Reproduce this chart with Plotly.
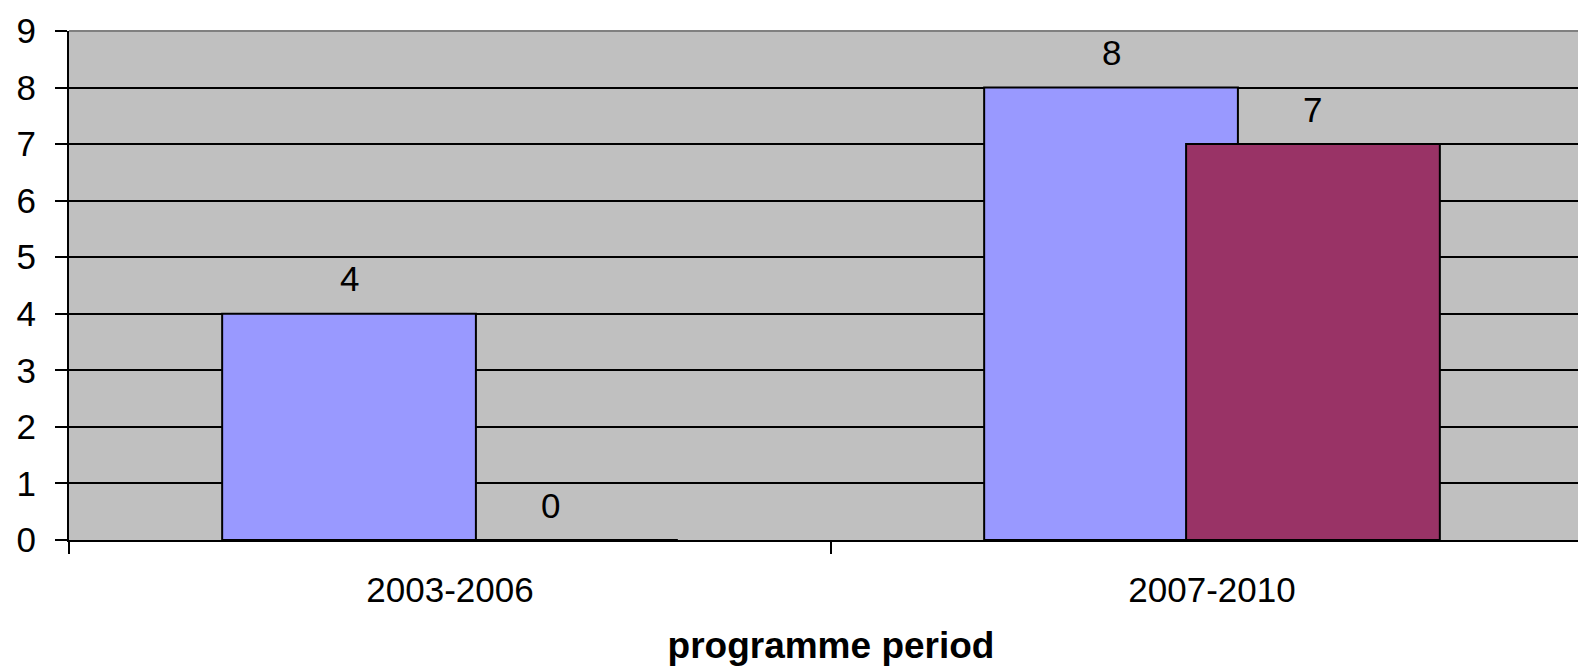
import plotly.graph_objects as go

categories = ["2003-2006", "2007-2010"]
series_a = [4, 8]
series_b = [0, 7]
y_ticks = [0, 1, 2, 3, 4, 5, 6, 7, 8, 9]

BAR_W = 0.333
SHIFT = 0.1325
FONT = "Liberation Sans, Arial, sans-serif"

fig = go.Figure()
fig.add_trace(go.Bar(
    x=categories, y=series_a, width=BAR_W, offset=-SHIFT - BAR_W / 2,
    marker=dict(color="#9999FF", line=dict(color="black", width=2)),
    showlegend=False, hoverinfo="skip",
))
fig.add_trace(go.Bar(
    x=categories, y=series_b, width=BAR_W, offset=SHIFT - BAR_W / 2,
    marker=dict(color="#993366", line=dict(color="black", width=2)),
    showlegend=False, hoverinfo="skip",
))

annotations = []
for series, shift in ((series_a, -SHIFT), (series_b, SHIFT)):
    for i, v in enumerate(series):
        annotations.append(dict(
            x=i + shift, y=v, xref="x", yref="y", text=str(v),
            showarrow=False, yshift=35, yanchor="middle",
            font=dict(family=FONT, size=35, color="black"),
        ))

fig.update_layout(
    width=1586, height=666,
    margin=dict(l=61, r=1, t=23, b=134, autoexpand=False),
    paper_bgcolor="white", plot_bgcolor="#C0C0C0",
    barmode="overlay",
    font=dict(family=FONT, size=35, color="black"),
    annotations=annotations,
    shapes=[
        dict(type="line", xref="paper", yref="paper", x0=0, x1=1, y0=1, y1=1,
             line=dict(color="#808080", width=2), layer="above"),
        dict(type="line", xref="paper", yref="paper", x0=1, x1=1, y0=0, y1=1,
             line=dict(color="#808080", width=2), layer="above"),
    ],
)
fig.update_xaxes(
    type="category", range=[-0.5, 1.5], tickson="boundaries",
    ticks="outside", ticklen=12, tickwidth=2, tickcolor="black",
    showline=True, linecolor="black", linewidth=2, showgrid=False,
    tickfont=dict(family=FONT, size=35, color="black"),
    ticklabelstandoff=18,
    title=dict(text="<b>programme period</b>", standoff=24,
               font=dict(family=FONT, size=37, color="black")),
    automargin=False, fixedrange=True,
)
fig.update_yaxes(
    range=[0, 9], tickvals=y_ticks, ticktext=[str(t) for t in y_ticks],
    ticks="outside", ticklen=12, tickwidth=2, tickcolor="black",
    showline=True, linecolor="black", linewidth=2,
    showgrid=True, gridcolor="black", gridwidth=2, zeroline=False,
    tickfont=dict(family=FONT, size=35, color="black"),
    ticklabelstandoff=12, automargin=False, fixedrange=True,
)

fig.write_html("out.html", config={"displayModeBar": False})
